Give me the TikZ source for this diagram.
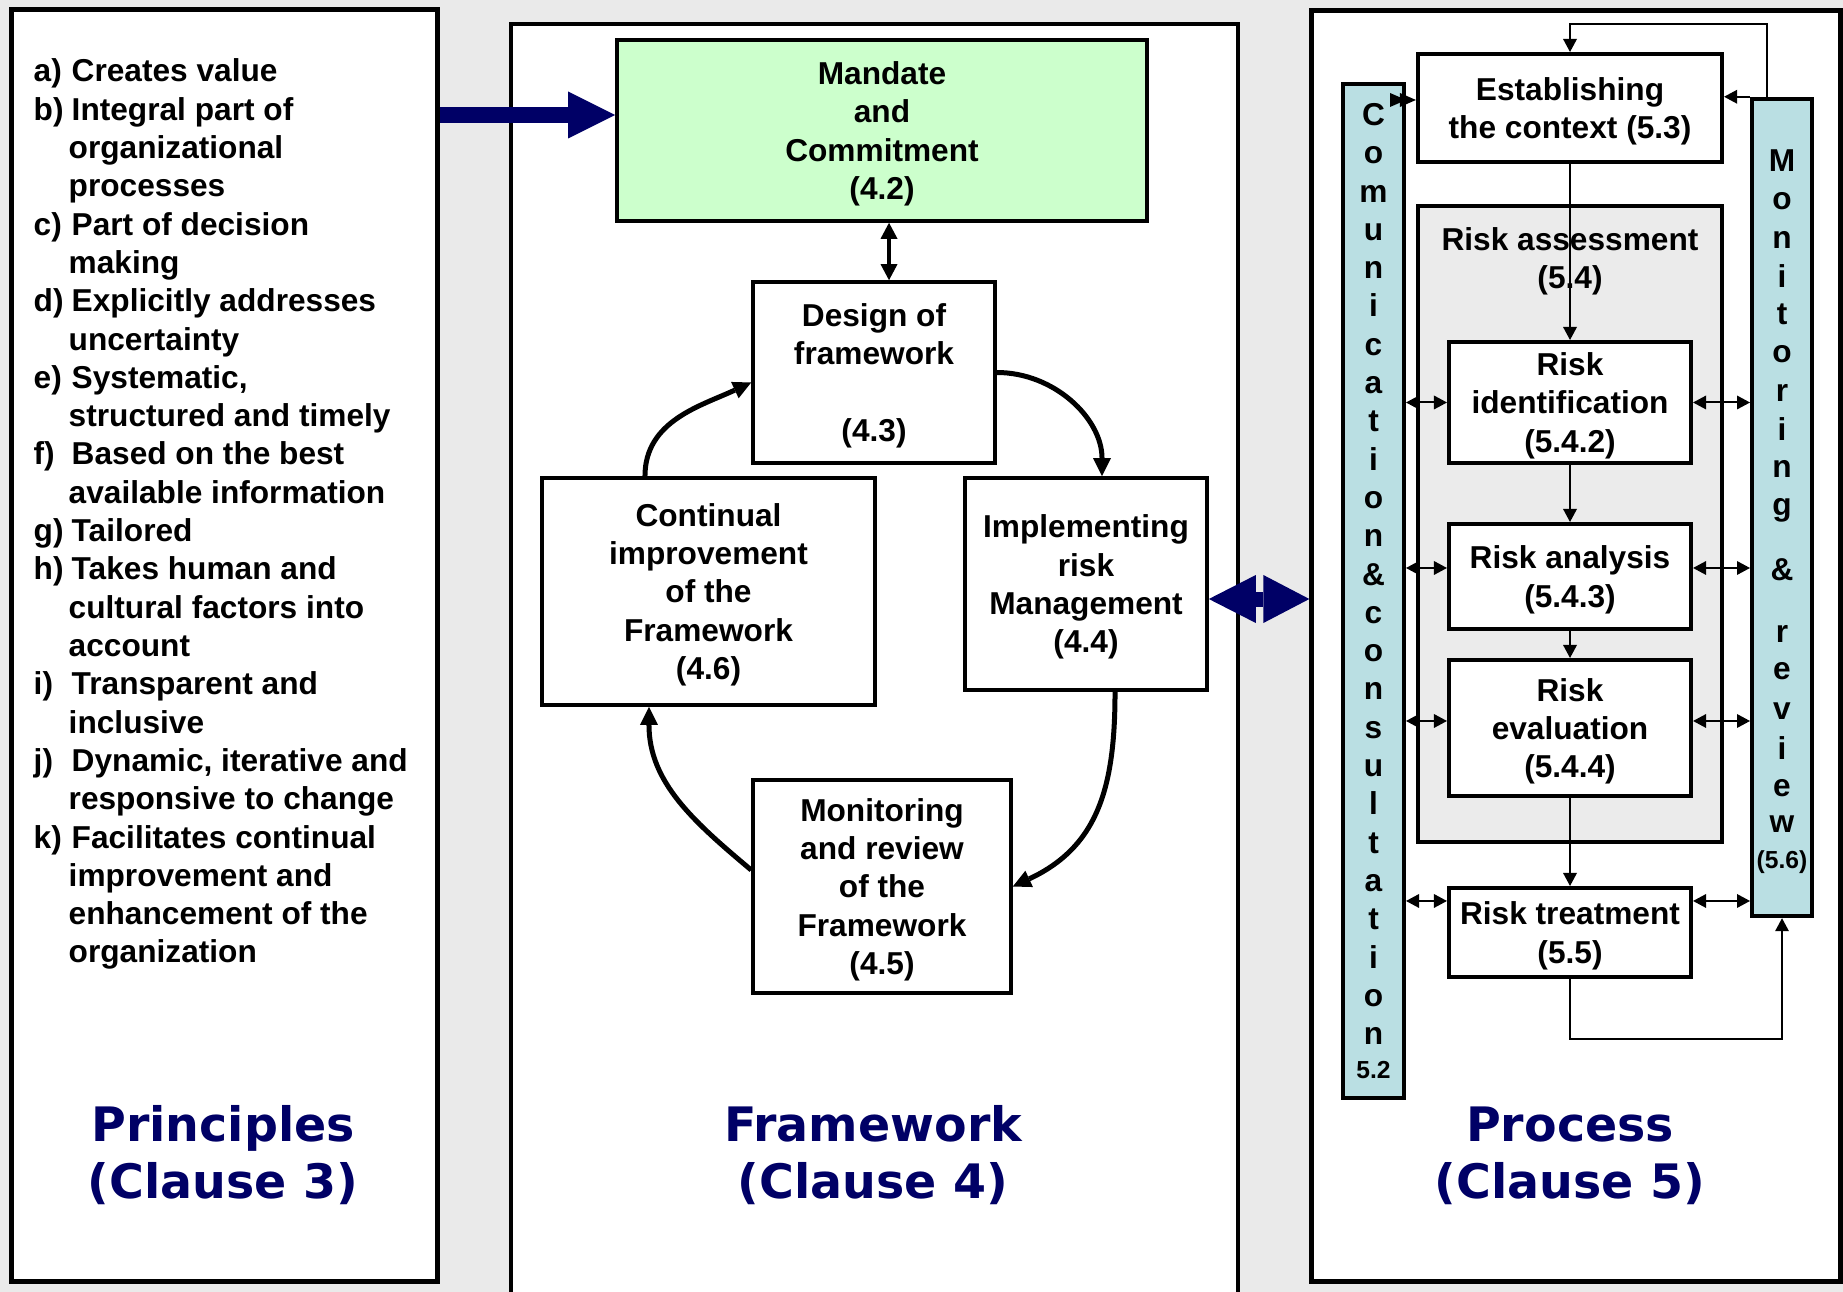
\documentclass[tikz,border=0pt]{standalone}
\usepackage{fontspec}
\setmainfont{Liberation Sans}
\newfontfamily\headfont{DejaVu Sans}
\usetikzlibrary{arrows.meta}
\definecolor{navy}{RGB}{0,0,102}
\definecolor{mandategreen}{HTML}{CCFFCC}
\definecolor{colblue}{HTML}{BADFE3}
\definecolor{bggray}{HTML}{EAEAEA}
\definecolor{assessgray}{HTML}{EBEBEB}
\newcommand{\boxfont}{\fontsize{9}{10.9}\selectfont\bfseries}
\newcommand{\plabel}[1]{\makebox[0.38cm][l]{#1}}
\newcommand{\pindent}{\hspace*{0.35cm}}
\tikzset{
  panel/.style={draw, line width=0.05cm, fill=white, inner sep=0},
  fwbox/.style={draw, line width=0.035cm, fill=white, align=center, font=\boxfont, inner sep=0, text depth=0pt},
  prbox/.style={draw, line width=0.04cm, fill=white, align=center, font=\boxfont, inner sep=0, text depth=0pt},
  column/.style={draw, line width=0.04cm, fill=colblue, inner sep=0},
  listtext/.style={anchor=base west, inner sep=0, font=\boxfont},
  colch/.style={anchor=base, inner sep=0, font=\boxfont},
  clause/.style={anchor=base, inner sep=0, text=navy,
    font={\headfont\bfseries\fontsize{13.5pt}{16pt}\selectfont}},
  bigarrow/.style={navy, line width=0.16cm, -{Triangle[length=0.47cm, width=0.47cm, line width=0pt]}},
  bigdbl/.style={navy, line width=0.15cm,
    {Triangle[length=0.47cm, width=0.48cm, line width=0pt]}-{Triangle[length=0.46cm, width=0.48cm, line width=0pt]}},
  cyc/.style={line width=0.05cm, -{Triangle[length=0.18cm, width=0.18cm, line width=0pt]}},
  fwdbl/.style={line width=0.04cm,
    {Triangle[length=0.16cm, width=0.17cm, line width=0pt]}-{Triangle[length=0.16cm, width=0.17cm, line width=0pt]}},
  flow/.style={line width=0.02cm, -{Triangle[length=0.13cm, width=0.14cm, line width=0pt]}},
  flowdbl/.style={line width=0.02cm,
    {Triangle[length=0.13cm, width=0.14cm, line width=0pt]}-{Triangle[length=0.13cm, width=0.14cm, line width=0pt]}}
}
\begin{document}
\begin{tikzpicture}[x=0.01cm, y=-0.01cm]
  \useasboundingbox (0,0) rectangle (1843,1292);
  \fill[bggray] (0,0) rectangle (1843,1292);
  % the three panels
  \node[panel, minimum width=4.25cm, minimum height=12.71cm] (principles) at (224.5,645.5) {};
  \draw[line width=0.035cm, fill=white] (511,1292) |- (1238,24) -- (1238,1292);
  \node[panel, minimum width=5.28cm, minimum height=12.70cm] (process) at (1576,646) {};
  \node[clause] (prinA) at (223,1141) {Principles};
  \node[clause] (prinB) at (223,1198) {(Clause 3)};
  \node[clause] (frameA) at (873,1141) {Framework};
  \node[clause] (frameB) at (873,1198) {(Clause 4)};
  \node[clause] (procA) at (1570,1141) {Process};
  \node[clause] (procB) at (1570,1198) {(Clause 5)};
  % principles list
  \foreach \ln [count=\i from 0] in {{\plabel{a)}Creates value}, {\plabel{b)}Integral part of},
      {\pindent organizational}, {\pindent processes}, {\plabel{c)}Part of decision},
      {\pindent making}, {\plabel{d)}Explicitly addresses}, {\pindent uncertainty},
      {\plabel{e)}Systematic,}, {\pindent structured and timely}, {\plabel{f)}Based on the best},
      {\pindent available information}, {\plabel{g)}Tailored}, {\plabel{h)}Takes human and},
      {\pindent cultural factors into}, {\pindent account}, {\plabel{i)}Transparent and},
      {\pindent inclusive}, {\plabel{j)}Dynamic, iterative and}, {\pindent responsive to change},
      {\plabel{k)}Facilitates continual}, {\pindent improvement and},
      {\pindent enhancement of the}, {\pindent organization}}
    \node[listtext] (pr\i) at (33,{82+38.3*\i}) {\ln};
  % framework boxes
  \node[fwbox, fill=mandategreen, minimum width=5.30cm, minimum height=1.81cm] (mandate) at (882,130.5)
    {Mandate\\and\\Commitment\\(4.2)};
  \node[fwbox, minimum width=2.42cm, minimum height=1.81cm] (design) at (874,372.5)
    {Design of\\framework\\ \mbox{}\\(4.3)};
  \node[fwbox, minimum width=3.33cm, minimum height=2.27cm] (cont) at (708.5,591.5)
    {Continual\\improvement\\of the\\Framework\\(4.6)};
  \node[fwbox, minimum width=2.42cm, minimum height=2.12cm] (impl) at (1086,584)
    {Implementing\\risk\\Management\\(4.4)};
  \node[fwbox, minimum width=2.58cm, minimum height=2.13cm] (mon) at (882,886.5)
    {Monitoring\\and review\\of the\\Framework\\(4.5)};
  % framework arrows
  \coordinate (blue) at ([yshift=0.155cm]mandate.west);
  \draw[bigarrow] (blue -| principles.east) -- (blue);
  \coordinate (dtop) at ([xshift=0.15cm]design.north);
  \draw[fwdbl] (dtop |- mandate.south) -- (dtop);
  \draw[cyc] (design.east) to[out=0, in=90] ([xshift=0.16cm]impl.north);
  \draw[cyc] ([xshift=0.29cm]impl.south) to[out=-90, in=25, looseness=1.1] (mon.east);
  \draw[cyc] ([yshift=0.165cm]mon.west) to[out=140, in=-90] ([xshift=-0.595cm]cont.south);
  \draw[cyc] ([xshift=-0.635cm]cont.north) to[out=90, in=205] ([yshift=-0.1cm]design.west);
  \coordinate (dblmid) at ([yshift=-0.15cm]impl.east);
  \draw[bigdbl] (dblmid) -- (dblmid -| process.west);
  % process columns
  \node[column, minimum width=0.61cm, minimum height=10.14cm] (comm) at (1373.5,591) {};
  \node[column, minimum width=0.60cm, minimum height=8.17cm] (monit) at (1782,507.5) {};
  \foreach \ch [count=\i from 0] in {C,o,m,u,n,i,c,a,t,i,o,n,\&,c,o,n,s,u,l,t,a,t,i,o,n}
    \node[colch] (cm\i) at (1373.5,{125.5+38.3*\i}) {\ch};
  \node[colch, font=\fontsize{7}{8}\selectfont\bfseries] (cmnum) at (1373.5,1078) {5.2};
  \foreach \ch/\yy [count=\i] in {M/172, o/210, n/249, i/288, t/325, o/363, r/402, i/441, n/478,
      g/516, \&/581, r/643, e/680, v/719, i/760, e/796, w/832}
    \node[colch] (mn\i) at (1782,\yy) {\ch};
  \node[colch, font=\fontsize{7}{8}\selectfont\bfseries] (mnnum) at (1782,868) {(5.6)};
  % process boxes
  \node[prbox, minimum width=3.04cm, minimum height=1.08cm] (est) at (1570,108)
    {Establishing\\the context (5.3)};
  \node[prbox, fill=assessgray, minimum width=3.04cm, minimum height=6.36cm] (assess) at (1570,524) {};
  \node[align=center, font=\boxfont, inner sep=0, text depth=0pt] (assesslbl) at (1570,258) {Risk assessment\\(5.4)};
  \node[prbox, minimum width=2.42cm, minimum height=1.21cm] (ident) at (1570,402.5)
    {Risk\\identification\\(5.4.2)};
  \node[prbox, minimum width=2.42cm, minimum height=1.05cm] (analysis) at (1570,576.5)
    {Risk analysis\\(5.4.3)};
  \node[prbox, minimum width=2.42cm, minimum height=1.36cm] (evaluation) at (1570,728)
    {Risk\\evaluation\\(5.4.4)};
  \node[prbox, minimum width=2.42cm, minimum height=0.89cm] (treat) at (1570,932.5)
    {Risk treatment\\(5.5)};
  % process arrows
  \draw[flow] (est.south) -- (ident.north);
  \draw[flow] (ident.south) -- (analysis.north);
  \draw[flow] (analysis.south) -- (evaluation.north);
  \draw[flow] (evaluation.south) -- (treat.north);
  \coordinate (tloop) at (1570,1039);
  \draw[flow] (treat.south) -- (tloop) -| (monit.south);
  \coordinate (mloop) at (1767,24);
  \draw[flow] (mloop |- monit.north) -- (mloop) -| (est.north);
  \draw[flow] (monit.north west) -- (monit.north west -| est.east);
  \coordinate (estl) at ([yshift=0.08cm]est.west);
  \draw[line width=0.02cm, {Triangle[length=0.16cm, width=0.14cm, line width=0pt]}-{Triangle[length=0.16cm, width=0.14cm, line width=0pt]}]
    (comm.east |- estl) -- (estl);
  \foreach \bx/\sh in {ident/0, analysis/0.085, evaluation/0.07, treat/0.315} {
    \coordinate (l\bx) at ([yshift=\sh cm]\bx.west);
    \coordinate (r\bx) at ([yshift=\sh cm]\bx.east);
    \draw[flowdbl] (comm.east |- l\bx) -- (l\bx);
    \draw[flowdbl] (r\bx) -- (r\bx -| monit.west);
  }
\end{tikzpicture}
\end{document}
